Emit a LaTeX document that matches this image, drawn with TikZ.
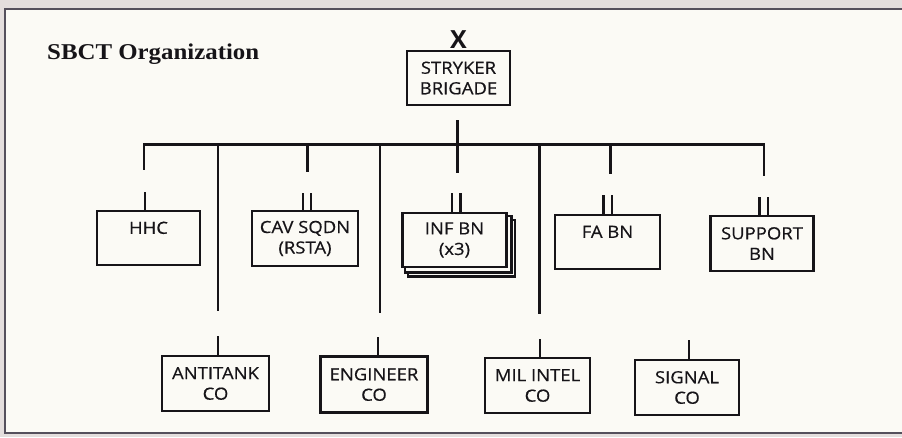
\documentclass[tikz,border=0pt]{standalone}
\usepackage{fontspec}
\newfontfamily\boxfont[FakeStretch=1.1,FakeBold=0.5]{Open Sans}
\newfontfamily\boxfontbold{Open Sans Bold}
\newfontfamily\titlefont[FakeStretch=1.1]{Liberation Serif Bold}
\definecolor{ink}{HTML}{161418}
\definecolor{paper}{HTML}{FBFAF5}
\definecolor{outside}{HTML}{E4DEDD}
\definecolor{framec}{HTML}{55505C}
\begin{document}
\begin{tikzpicture}[x=1pt,y=-1pt,
  unit/.style={draw=ink, line width=2.6pt, fill=paper, minimum width=104pt, minimum height=54pt,
    inner sep=0pt, align=center, text=ink, font=\boxfont\fontsize{16.8}{20.5}\selectfont},
  conn/.style={draw=ink, line width=2.3pt},
  tickline/.style={draw=ink, line width=2.6pt}]
\fill[outside] (0,0) rectangle (902,437);
\useasboundingbox (0,0) rectangle (902,437);
\fill[paper] (5,9) rectangle (910,433);
\draw[framec, line width=1.6pt] (910,9) -- (5,9) -- (5,433) -- (910,433);

% title
\node[anchor=base west, inner sep=0pt, text=ink, font=\titlefont\fontsize{22.6}{25}\selectfont] (title) at (47,59) {SBCT Organization};

% top node
\node[unit, minimum width=103pt] (brig) at (458.5,78) {STRYKER\\BRIGADE};
\node[anchor=south, inner sep=0pt, text=ink, font=\boxfontbold\fontsize{25}{25}\selectfont] (x) at ([yshift=1.5pt]brig.north) {X};

% first row
\node[unit, minimum width=103pt] (hhc) at (148.5,238) {HHC\\\mbox{}};
\node[unit, minimum width=106pt, minimum height=55pt] (cav) at (305,238.5) {CAV SQDN\\(RSTA)};
\node[unit, draw=none, fill=none] (infb) at (461.5,248) {};
\node[unit, draw=none, fill=none] (infm) at (458,244) {};
\draw[draw=ink, line width=2.4pt, fill=paper] (infb.north west) rectangle (infb.south east);
\draw[draw=ink, line width=2.4pt, fill=paper] (infm.north west) rectangle (infm.south east);
\node[unit] (inf) at (454.5,240) {INF BN\\(x3)};
\node[unit, minimum width=105pt] (fa) at (607.5,242) {FA BN\\\mbox{}};
\node[unit, minimum width=103pt, minimum height=55pt] (sup) at (762,243.5) {SUPPORT\\BN};

% second row
\node[unit, minimum width=107pt, minimum height=55pt] (anti) at (215.5,383.5) {ANTITANK\\CO};
\node[unit, minimum width=107pt, minimum height=56pt] (eng) at (374,384.5) {ENGINEER\\CO};
\node[unit, minimum width=105pt, minimum height=55pt] (mil) at (537.5,385.5) {MIL INTEL\\CO};
\node[unit, minimum width=104pt, minimum height=55pt] (sig) at (687,387.5) {SIGNAL\\CO};

% bus
\coordinate (busl) at (144,144.5);
\coordinate (busr) at (764,144.5);
\draw[conn, line cap=rect] (busl) -- (busr);
% brigade stem
\coordinate (bst) at (457.5,120);
\coordinate (bsb) at (457.5,173);
\draw[conn] (bst) -- (bsb);
% stems ending above first row
\coordinate (hhcs) at (144,170);
\draw[conn] (busl) -- (hhcs);
\coordinate (cavs0) at (307.5,144.5);
\coordinate (cavs) at (307.5,172);
\draw[conn] (cavs0) -- (cavs);
\coordinate (fas0) at (610.5,144.5);
\coordinate (fas) at (610.5,174);
\draw[conn] (fas0) -- (fas);
\coordinate (sups) at (764,176);
\draw[conn] (busr) -- (sups);
% long lines to second row
\coordinate (antil0) at (218,144.5);
\coordinate (antil) at (218,311);
\draw[conn] (antil0) -- (antil);
\coordinate (engl0) at (380,144.5);
\coordinate (engl) at (380,313);
\draw[conn] (engl0) -- (engl);
\coordinate (mill0) at (539.5,144.5);
\coordinate (mill) at (539.5,314);
\draw[conn] (mill0) -- (mill);

% unit size ticks
\draw[tickline] (145,192) -- (145,192 |- hhc.north);
\draw[tickline] (303,193) -- (303,193 |- cav.north);
\draw[tickline] (311,193) -- (311,193 |- cav.north);
\draw[tickline] (452,193) -- (452,193 |- inf.north);
\draw[tickline] (460.5,193) -- (460.5,193 |- inf.north);
\draw[tickline] (603.5,195) -- (603.5,195 |- fa.north);
\draw[tickline] (612,195) -- (612,195 |- fa.north);
\draw[tickline] (759.5,197) -- (759.5,197 |- sup.north);
\draw[tickline] (768,197) -- (768,197 |- sup.north);
\draw[tickline] (218,336) -- (218,336 |- anti.north);
\draw[tickline] (378,337) -- (378,337 |- eng.north);
\draw[tickline] (540,339) -- (540,339 |- mil.north);
\draw[tickline] (689,340) -- (689,340 |- sig.north);
\end{tikzpicture}
\end{document}
